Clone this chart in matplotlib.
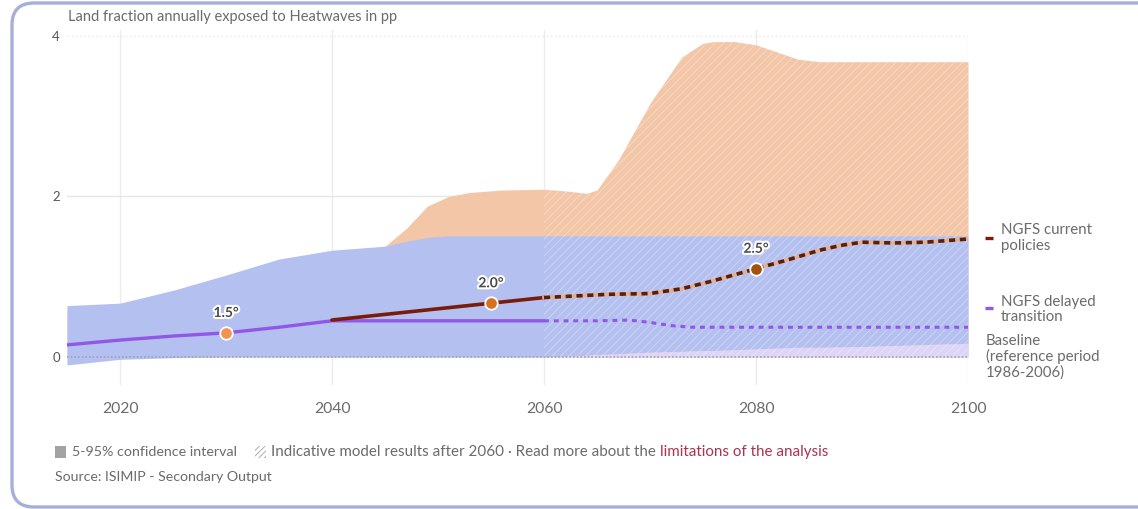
import numpy as np
import matplotlib
matplotlib.use("Agg")
import matplotlib.pyplot as plt
import matplotlib.patheffects as pe
from matplotlib.patches import FancyBboxPatch, Rectangle
from matplotlib.transforms import IdentityTransform

plt.rcParams["font.family"] = ["Lato", "DejaVu Sans"]
plt.rcParams["hatch.linewidth"] = 0.6

# ── data ────────────────────────────────────────────────────
band_years = [2015, 2020, 2025, 2030, 2035, 2040, 2043, 2045, 2047, 2049, 2051,
              2053, 2056, 2060, 2062, 2064, 2065, 2067, 2070, 2073, 2075, 2076,
              2078, 2080, 2082, 2084, 2086, 2090, 2095, 2100]
# delayed transition 5-95% band
dt_hi = [0.64, 0.67, 0.83, 1.02, 1.22, 1.33, 1.36, 1.38, 1.44, 1.49, 1.51,
         1.51, 1.51, 1.51, 1.51, 1.51, 1.51, 1.51, 1.51, 1.51, 1.51, 1.51,
         1.51, 1.51, 1.51, 1.51, 1.51, 1.51, 1.51, 1.51]
dt_lo = [-0.10, -0.03, -0.01, 0.0, 0.0, 0.0, 0.0, 0.0, 0.0, 0.0, 0.0,
         0.0, 0.0, 0.0, 0.01, 0.02, 0.03, 0.04, 0.06, 0.07, 0.08, 0.08,
         0.09, 0.10, 0.11, 0.12, 0.12, 0.13, 0.15, 0.17]
# current policies 5-95% band (upper edge)
cp_hi = [0.60, 0.64, 0.80, 0.98, 1.18, 1.30, 1.34, 1.38, 1.60, 1.88, 2.00,
         2.05, 2.08, 2.09, 2.07, 2.04, 2.08, 2.45, 3.16, 3.74, 3.91, 3.93,
         3.93, 3.89, 3.80, 3.71, 3.68, 3.68, 3.68, 3.68]

cp_years = [2040, 2045, 2050, 2055, 2060, 2063, 2066, 2070, 2073, 2076, 2080,
            2083, 2086, 2088, 2090, 2093, 2096, 2100]
cp_vals = [0.46, 0.53, 0.60, 0.67, 0.74, 0.76, 0.78, 0.79, 0.85, 0.95, 1.10,
           1.21, 1.33, 1.39, 1.43, 1.42, 1.43, 1.47]

dt_years = [2015, 2020, 2025, 2030, 2035, 2040, 2050, 2060, 2065, 2068, 2070,
            2072, 2074, 2080, 2090, 2100]
dt_vals = [0.15, 0.21, 0.26, 0.30, 0.37, 0.45, 0.45, 0.45, 0.45, 0.46, 0.43,
           0.39, 0.37, 0.37, 0.37, 0.37]

warming_years = [2030, 2055, 2080]
warming_vals = [0.30, 0.67, 1.10]
warming_labels = ["1.5°", "2.0°", "2.5°"]
warming_colors = ["#f4934f", "#d7711f", "#a2520c"]

x_ticks = [2020, 2040, 2060, 2080, 2100]
y_ticks = [0, 2, 4]

# ── colours ────────────────────────────────────────────────
blue_band = "#b4c0ef"
orange_band = "#f3c6a8"
lavender = "#ddd4f7"
cp_color = "#7a1c0c"
dt_color = "#9257e6"
text_grey = "#6b6b6b"

W, H = 1138, 509
fig = plt.figure(figsize=(W / 100, H / 100), dpi=100)
fig.patch.set_facecolor("white")

# rounded card frame
frame = FancyBboxPatch((12, 2), 1200, 504, boxstyle="round,pad=0,rounding_size=22",
                       transform=IdentityTransform(), facecolor="none",
                       edgecolor="#a6aedc", linewidth=2.4)
fig.patches.append(frame)

ax = fig.add_axes([67 / W, 1 - 385 / H, 901 / W, 355.4 / H])
ax.set_xlim(2015, 2100)
ax.set_ylim(-0.35, 4.08)
for s in ax.spines.values():
    s.set_visible(False)

yrs = np.array(band_years)
split = yrs >= 2060

# grid
for x in x_ticks:
    ax.axvline(x, color="#ececec", lw=1, zorder=0)
ax.axhline(2, color="#e6e6e6", lw=1, zorder=0)
ax.axhline(4, color="#e6e6e6", lw=1, ls=(0, (1, 2)), zorder=0)

# bands
ax.fill_between(band_years, 0, cp_hi, color=orange_band, lw=0, zorder=1)
ax.fill_between(band_years, dt_lo, dt_hi, color=blue_band, lw=0, zorder=2)
ax.fill_between(yrs[split], 0, np.array(dt_lo)[split], color=lavender, lw=0, zorder=2)

# hatch for the indicative period after 2060
top = np.maximum(cp_hi, dt_hi)
ax.fill_between(yrs[split], np.minimum(0, np.array(dt_lo))[split], top[split],
                facecolor="none", edgecolor=(1, 1, 1, 0.38), hatch="////",
                lw=0, zorder=3)

# baseline
ax.axhline(0, color="#9ea3b8", lw=1.2, ls=(0, (1, 1.2)), zorder=4)

# delayed transition line
dty = np.array(dt_years)
dtv = np.array(dt_vals)
m = dty <= 2060
ax.plot(dty[m], dtv[m], color=dt_color, lw=2.4, solid_capstyle="round", zorder=5)
ax.plot(dty[dty >= 2060], dtv[dty >= 2060], color=dt_color, lw=2.2,
        ls=(0, (1.6, 1.6)), zorder=5)

# current policies line
cpy = np.array(cp_years)
cpv = np.array(cp_vals)
m = cpy <= 2060
ax.plot(cpy[m], cpv[m], color=cp_color, lw=2.6, solid_capstyle="round", zorder=6)
ax.plot(cpy[cpy >= 2060], cpv[cpy >= 2060], color="#e8b08a", lw=2.6, zorder=6)
ax.plot(cpy[cpy >= 2060], cpv[cpy >= 2060], color="#5a1f0c", lw=2.6,
        ls=(0, (1.7, 1.3)), zorder=6)

# warming level markers
for x, y, lab, c in zip(warming_years, warming_vals, warming_labels, warming_colors):
    ax.plot(x, y, "o", ms=9, mfc=c, mec="white", mew=1.3, zorder=8)
    ax.annotate(lab, (x, y), xytext=(0, 10), textcoords="offset points",
                ha="center", va="bottom", fontsize=10, fontweight="bold",
                color="#4a4a4a", zorder=9,
                path_effects=[pe.withStroke(linewidth=3, foreground="white")])

# ticks
ax.set_xticks(x_ticks)
ax.set_xticklabels([str(x) for x in x_ticks])
ax.set_yticks(y_ticks)
ax.tick_params(axis="x", length=0, pad=12, labelsize=11.3, labelcolor=text_grey)
ax.tick_params(axis="y", length=0, pad=5, labelsize=9.5, labelcolor="#555555")

# series labels on the right
def label(y_dash, y_text, text, color, spacing):
    if color:
        ax.plot([2101.6, 2102.4], [y_dash, y_dash], color=color, lw=2.4,
                clip_on=False, solid_capstyle="butt")
        xt = 2103.1
    else:
        xt = 2101.7
    ax.text(xt, y_text, text, ha="left", va="center", fontsize=10.8,
            color=text_grey, linespacing=spacing, clip_on=False)

label(1.48, 1.48, "NGFS current\npolicies", cp_color, 1.2)
label(0.61, 0.59, "NGFS delayed\ntransition", dt_color, 1.1)
label(None, 0.0, "Baseline\n(reference period\n1986-2006)", None, 1.1)

# title
fig.text(68 / W, 1 - 17 / H, "Land fraction annually exposed to Heatwaves in pp",
         ha="left", va="center", fontsize=10.5, color=text_grey)

# bottom legend
leg_y = 1 - 452 / H
fig.patches.append(Rectangle((55, H - 458), 11, 12, transform=IdentityTransform(),
                             facecolor="#a3a3a3", edgecolor="none"))
t1 = fig.text(72 / W, leg_y, "5-95% confidence interval", ha="left", va="center",
              fontsize=10.3, color=text_grey)
fig.patches.append(Rectangle((255, H - 458), 11, 12, transform=IdentityTransform(),
                             facecolor="white", edgecolor="#a3a3a3", hatch="//////",
                             lw=0))
t2 = fig.text(271 / W, leg_y,
              "Indicative model results after 2060 · Read more about the ",
              ha="left", va="center", fontsize=10.9, color=text_grey)
fig.canvas.draw()
bb = t2.get_window_extent()
fig.text(bb.x1 / W, leg_y, "limitations of the analysis", ha="left", va="center",
         fontsize=10.9, color="#a8344f")

fig.text(55 / W, 1 - 477 / H, "Source: ISIMIP - Secondary Output", ha="left",
         va="center", fontsize=10.2, color=text_grey)

fig.savefig("out.png", dpi=100, facecolor="white")
